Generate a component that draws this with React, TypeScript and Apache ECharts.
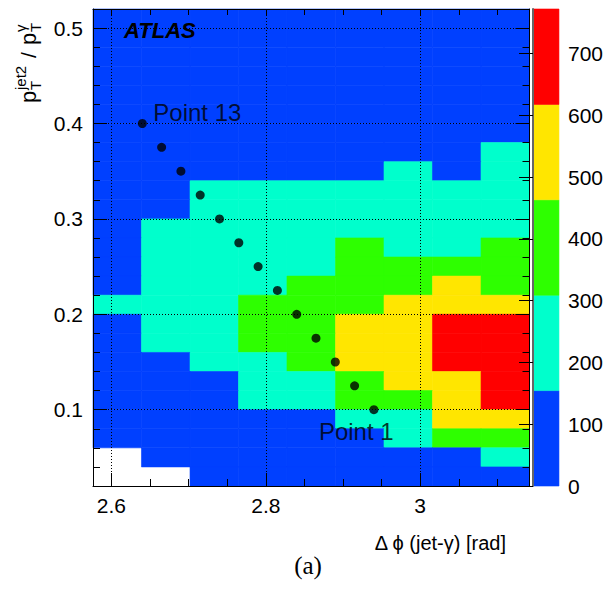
import React, { useEffect, useRef } from "react";
import * as echarts from "echarts";

// ---------- data ----------
// x bin edges: 9 bins of 0.02*pi from 0.82*pi to pi (rad)
const X_EDGES = [2.5761, 2.6389, 2.7018, 2.7646, 2.8274, 2.8903, 2.9531, 3.0159, 3.0788, 3.1416];
// y bin edges: 25 bins of 0.02 from 0.02 to 0.52
const Y_EDGES = [
  0.02, 0.04, 0.06, 0.08, 0.1, 0.12, 0.14, 0.16, 0.18, 0.2, 0.22, 0.24, 0.26,
  0.28, 0.3, 0.32, 0.34, 0.36, 0.38, 0.4, 0.42, 0.44, 0.46, 0.48, 0.5, 0.52,
];
// event counts, rows listed from the top bin (0.50-0.52) down to the bottom bin (0.02-0.04)
const COUNTS_TOP_DOWN = [
  [3, 4, 5, 6, 7, 8, 9, 10, 11],
  [4, 5, 6, 8, 9, 10, 12, 13, 14],
  [5, 6, 8, 10, 12, 13, 15, 16, 18],
  [6, 8, 10, 12, 15, 17, 19, 21, 23],
  [8, 10, 13, 16, 19, 22, 25, 27, 30],
  [10, 13, 17, 21, 25, 29, 33, 36, 40],
  [13, 17, 22, 28, 33, 38, 44, 48, 53],
  [16, 22, 29, 37, 44, 51, 58, 64, 160],
  [20, 29, 38, 49, 58, 68, 165, 86, 185],
  [26, 38, 170, 175, 180, 185, 195, 190, 205],
  [33, 50, 185, 190, 195, 205, 215, 210, 225],
  [42, 165, 200, 205, 215, 230, 235, 230, 250],
  [55, 180, 215, 225, 240, 320, 255, 250, 330],
  [70, 195, 230, 245, 270, 345, 330, 320, 360],
  [90, 210, 245, 265, 330, 370, 360, 480, 400],
  [160, 220, 255, 325, 360, 400, 480, 520, 500],
  [120, 225, 260, 340, 385, 480, 520, 640, 660],
  [100, 215, 250, 320, 390, 510, 550, 680, 710],
  [80, 140, 240, 290, 350, 500, 560, 650, 740],
  [65, 120, 150, 260, 300, 420, 530, 580, 720],
  [50, 95, 125, 200, 240, 350, 420, 520, 660],
  [38, 70, 95, 140, 150, 230, 270, 490, 560],
  [25, 50, 68, 95, 110, 140, 200, 400, 430],
  [0, 30, 45, 62, 75, 90, 110, 130, 190],
  [0, 0, 28, 35, 45, 55, 65, 80, 100],
];
// colour contour levels (z) and their colours
const Z_LEVELS = [0, 154.4, 308.8, 463.2, 617.6, 772];
const LEVEL_COLORS = ["#0040ff", "#00ffcc", "#2eff00", "#ffe600", "#ff0000"];
const Z_TICKS = [0, 100, 200, 300, 400, 500, 600, 700];
// working points
const POINT_X = [2.94, 2.915, 2.89, 2.865, 2.84, 2.815, 2.79, 2.765, 2.74, 2.715, 2.69, 2.665, 2.64];
const POINT_Y = [0.1, 0.125, 0.15, 0.175, 0.2, 0.225, 0.25, 0.275, 0.3, 0.325, 0.35, 0.375, 0.4];
const POINT_NAMES = ["Point 1", "", "", "", "", "", "", "", "", "", "", "", "Point 13"];

const SANS = "'Liberation Sans', Arial, Helvetica, sans-serif";
const SERIF = "'Liberation Serif', 'Times New Roman', serif";

function levelColor(v: number): string {
  for (let i = 1; i < Z_LEVELS.length; i++) {
    if (v < Z_LEVELS[i]) return LEVEL_COLORS[i - 1];
  }
  return LEVEL_COLORS[LEVEL_COLORS.length - 1];
}

function fmt1(v: number): string {
  const r = Math.round(v * 10) / 10;
  return Math.abs(v - r) < 1e-6 ? String(r) : "";
}

// text placed so its alphabetic baseline sits at y (middle = central baseline)
function latexPiece(text: string, x: number, baseY: number, size: number) {
  return {
    type: "text",
    x,
    y: baseY - 0.3465 * size,
    style: { text, font: `${size}px ${SANS}`, fill: "#000", align: "left", verticalAlign: "middle" },
  };
}

export default function App() {
  const ref = useRef<HTMLDivElement>(null);
  useEffect(() => {
    if (!ref.current) return;
    const chart = echarts.init(ref.current, undefined, { renderer: "svg" });

    const nRows = COUNTS_TOP_DOWN.length;
    const cells: number[][] = [];
    COUNTS_TOP_DOWN.forEach((row, i) => {
      const r = nRows - 1 - i; // bin index from bottom
      row.forEach((v, c) => {
        if (v > 0) cells.push([X_EDGES[c], X_EDGES[c + 1], Y_EDGES[r], Y_EDGES[r + 1], v]);
      });
    });
    const bands = LEVEL_COLORS.map((_, i) => [Z_LEVELS[i], Z_LEVELS[i + 1], i]);
    const points = POINT_X.map((x, i) => {
      const name = POINT_NAMES[i];
      const item: any = { value: [x, POINT_Y[i]] };
      if (name) {
        item.label = {
          show: true,
          formatter: name,
          position: "inside",
          align: "left",
          verticalAlign: "middle",
          offset: i === 0 ? [-55, 22] : [11, -11],
          fontSize: 24,
          fontFamily: SANS,
          color: "#000",
        };
      }
      return item;
    });

    const axisCommon = {
      axisLine: { show: true, onZero: false, lineStyle: { color: "#000", width: 1 } },
      z: 5,
    };

    const option: any = {
      animation: false,
      backgroundColor: "#fff",
      grid: [
        { left: 93, top: 9, width: 436.5, height: 477, show: false },
        { left: 533, top: 9, width: 28, height: 477, show: false },
      ],
      xAxis: [
        {
          ...axisCommon,
          type: "value",
          gridIndex: 0,
          position: "bottom",
          min: X_EDGES[0],
          max: X_EDGES[X_EDGES.length - 1],
          splitNumber: 3,
          axisTick: { show: true, inside: true, length: 13, lineStyle: { color: "#000" } },
          minorTick: { show: true, splitNumber: 4, length: 7, lineStyle: { color: "#000" } },
          splitLine: { show: true, lineStyle: { color: "#000", width: 1, type: [1, 2] } },
          axisLabel: { show: true, formatter: fmt1, fontSize: 21, fontFamily: SANS, color: "#000", margin: 9 },
        },
        {
          ...axisCommon,
          type: "value",
          gridIndex: 0,
          position: "top",
          min: X_EDGES[0],
          max: X_EDGES[X_EDGES.length - 1],
          splitNumber: 3,
          axisTick: { show: true, inside: true, length: 7, lineStyle: { color: "#000" } },
          minorTick: { show: true, splitNumber: 4, length: 6, lineStyle: { color: "#000" } },
          splitLine: { show: false },
          axisLabel: { show: false },
        },
        { type: "value", gridIndex: 1, min: 0, max: 1, show: false },
      ],
      yAxis: [
        {
          ...axisCommon,
          type: "value",
          gridIndex: 0,
          position: "left",
          min: Y_EDGES[0],
          max: Y_EDGES[Y_EDGES.length - 1],
          splitNumber: 5,
          axisTick: { show: true, inside: true, length: 14, lineStyle: { color: "#000" } },
          minorTick: { show: true, splitNumber: 5, length: 7, lineStyle: { color: "#000" } },
          splitLine: { show: true, lineStyle: { color: "#000", width: 1, type: [1, 2] } },
          axisLabel: { show: true, formatter: fmt1, fontSize: 21, fontFamily: SANS, color: "#000", margin: 10 },
        },
        {
          ...axisCommon,
          type: "value",
          gridIndex: 0,
          position: "right",
          min: Y_EDGES[0],
          max: Y_EDGES[Y_EDGES.length - 1],
          splitNumber: 5,
          axisTick: { show: true, inside: true, length: 14, lineStyle: { color: "#000" } },
          minorTick: { show: true, splitNumber: 5, length: 7, lineStyle: { color: "#000" } },
          splitLine: { show: false },
          axisLabel: { show: false },
        },
        {
          type: "value",
          gridIndex: 1,
          position: "right",
          min: Z_LEVELS[0],
          max: Z_LEVELS[Z_LEVELS.length - 1],
          interval: 100,
          z: 5,
          axisLine: { show: true, lineStyle: { color: "#666", width: 2 } },
          axisTick: { show: true, inside: true, length: 14, customValues: Z_TICKS, lineStyle: { color: "#000" } },
          splitLine: { show: false },
          axisLabel: {
            show: true,
            customValues: Z_TICKS,
            formatter: (v: number) => (v % 100 === 0 ? String(v) : ""),
            fontSize: 21,
            fontFamily: SANS,
            color: "#000",
            margin: 9,
          },
        },
      ],
      series: [
        {
          type: "custom",
          name: "counts",
          xAxisIndex: 0,
          yAxisIndex: 0,
          z: 2,
          encode: { x: [0, 1], y: [2, 3] },
          data: cells,
          renderItem: (params: any, api: any) => {
            const p0 = api.coord([api.value(0), api.value(3)]);
            const p1 = api.coord([api.value(1), api.value(2)]);
            const col = levelColor(api.value(4));
            return {
              type: "rect",
              shape: { x: p0[0], y: p0[1], width: p1[0] - p0[0], height: p1[1] - p0[1] },
              style: { fill: col, stroke: col, lineWidth: 0.6 },
            };
          },
        },
        {
          type: "custom",
          name: "palette",
          xAxisIndex: 2,
          yAxisIndex: 2,
          z: 2,
          encode: { y: [0, 1] },
          data: bands,
          renderItem: (params: any, api: any) => {
            const p0 = api.coord([0, api.value(1)]);
            const p1 = api.coord([1, api.value(0)]);
            const col = LEVEL_COLORS[api.value(2)];
            return {
              type: "rect",
              shape: { x: p0[0], y: p0[1], width: p1[0] - p0[0], height: p1[1] - p0[1] },
              style: { fill: col, stroke: col, lineWidth: 0.6 },
            };
          },
        },
        {
          type: "scatter",
          name: "points",
          xAxisIndex: 0,
          yAxisIndex: 0,
          z: 10,
          symbol: "circle",
          symbolSize: 9,
          itemStyle: { color: "#000" },
          data: points,
        },
      ],
      graphic: [
        {
          type: "text",
          x: 124,
          y: 30,
          z: 20,
          style: {
            text: "ATLAS",
            font: `italic bold 22px ${SANS}`,
            fill: "#000",
            align: "left",
            verticalAlign: "middle",
          },
        },
        {
          type: "text",
          x: 506,
          y: 543,
          style: {
            text: "Δ ϕ (jet-γ) [rad]",
            font: `20px ${SANS}`,
            fill: "#000",
            align: "right",
            verticalAlign: "middle",
          },
        },
        {
          type: "text",
          x: 308,
          y: 565,
          style: { text: "(a)", font: `25px ${SERIF}`, fill: "#000", align: "center", verticalAlign: "middle" },
        },
        {
          type: "group",
          x: 36,
          y: 103,
          rotation: Math.PI / 2,
          children: [
            latexPiece("p", 0, 0, 22),
            latexPiece("T", 13, 5, 15),
            latexPiece("jet2", 13, -10, 15),
            latexPiece("/", 45, 0, 21),
            latexPiece("p", 58, 0, 22),
            latexPiece("T", 71, 5, 15),
            latexPiece("γ", 71, -10, 15),
          ],
        },
      ],
    };
    chart.setOption(option);
    return () => chart.dispose();
  }, []);
  return (
    <div
      ref={ref}
      style={{ position: "fixed", left: 0, top: 0, width: 606, height: 590, background: "#fff" }}
    />
  );
}
